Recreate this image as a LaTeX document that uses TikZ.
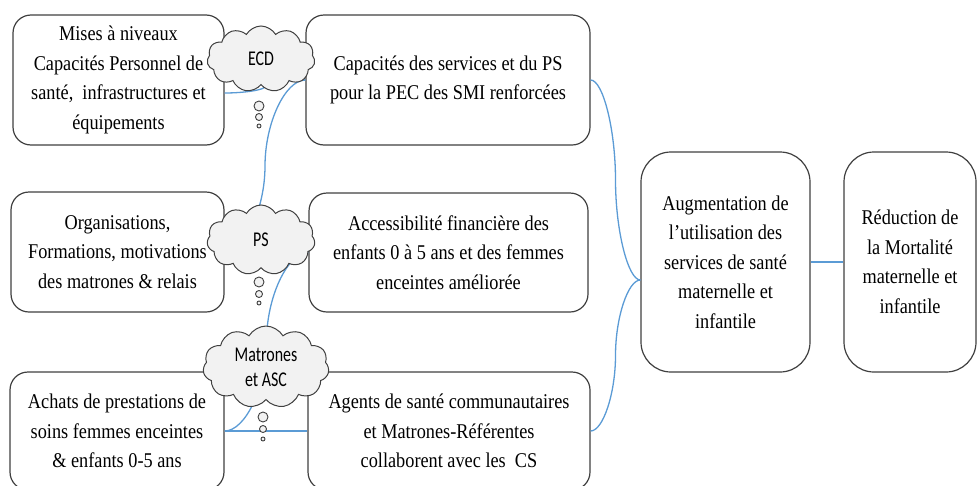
\documentclass[tikz,border=0pt]{standalone}
\usepackage{fontspec}
\setmainfont{Liberation Serif}[FakeStretch=0.87]
\newfontfamily\cloudfont{Carlito}[FakeStretch=0.76]
\usetikzlibrary{shapes.symbols,calc}
\definecolor{conn}{RGB}{91,155,213}
\definecolor{edge}{RGB}{64,64,64}
\definecolor{cloudfill}{RGB}{242,242,242}
\newcommand\wordcurve[2]{\draw[connector] let \p1=(#1), \p2=(#2) in (\p1) .. controls ({0.75*\x1+0.25*\x2},\y1) and ({0.5*\x1+0.5*\x2},{0.75*\y1+0.25*\y2}) .. ({0.5*\x1+0.5*\x2},{0.5*\y1+0.5*\y2}) .. controls ({0.5*\x1+0.5*\x2},{0.25*\y1+0.75*\y2}) and ({0.25*\x1+0.75*\x2},\y2) .. (\p2);}
\tikzset{
  box/.style={draw=edge, line width=1.2pt, rounded corners=18pt, fill=white, align=center, inner sep=0pt, font=\fontsize{21}{29.5}\selectfont},
  bigbox/.style={box, rounded corners=30pt},
  connector/.style={draw=conn, line width=1.3pt},
  thought/.style={cloud, cloud puffs=11, cloud puff arc=120, aspect=1.5, draw=edge, fill=cloudfill, line width=1pt, inner sep=0pt, align=center, font=\cloudfont\fontsize{21}{25}\selectfont},
  bubble/.style={circle, draw=edge, fill=cloudfill, line width=0.9pt, inner sep=0pt}
}
\begin{document}
\begin{tikzpicture}[x=1pt,y=-1pt]
\useasboundingbox (0,0) rectangle (977,485);
\clip (0,0) rectangle (977,485);
% boxes
\node[box, minimum width=211pt, minimum height=130pt] (L1) at (118.5,80) {Mises à niveaux\\Capacités Personnel de\\santé,~ infrastructures et\\équipements};
\node[box, minimum width=213pt, minimum height=120pt] (L2) at (117.5,252) {Organisations,\\Formations, motivations\\des matrones \& relais};
\node[box, minimum width=214pt, minimum height=118pt] (L3) at (117,431) {Achats de prestations de\\soins femmes enceintes\\\& enfants 0-5 ans};
\node[box, minimum width=284pt, minimum height=130pt] (M1) at (448,80) {Capacités des services et du PS\\pour la PEC des SMI renforcées};
\node[box, minimum width=279pt, minimum height=119pt] (M2) at (448.5,252.5) {Accessibilité financière des\\enfants 0 à 5 ans et des femmes\\enceintes améliorée};
\node[box, minimum width=282pt, minimum height=118pt] (M3) at (449,431) {Agents de santé communautaires\\et Matrones-Référentes\\collaborent avec les~ CS};
\node[bigbox, minimum width=169pt, minimum height=220pt] (B) at (725.5,262) {Augmentation de\\l’utilisation des\\services de santé\\maternelle et\\infantile};
\node[bigbox, minimum width=132pt, minimum height=220pt] (R) at (910,262) {Réduction de\\la Mortalité\\maternelle et\\infantile};
% connectors
\coordinate (l1o) at ([yshift=-13pt]L1.east);
\coordinate (bin) at ([yshift=-18pt]B.west);
\wordcurve{l1o}{M1.west}
\wordcurve{L2.east}{M1.west}
\wordcurve{L3.east}{M2.west}
\draw[connector] (L3.east) -- (M3.west);
\wordcurve{M1.east}{bin}
\wordcurve{M3.east}{bin}
\draw[connector] (B.east) -- (R.west);
% clouds
\node[thought, minimum width=108pt, minimum height=66pt] (c1) at (261,59) {ECD};
\node[thought, minimum width=108pt, minimum height=70pt] (c2) at (261,240) {PS};
\node[thought, minimum width=126pt, minimum height=82pt] (c3) at (266,367) {Matrones\\et ASC};
\node[bubble, minimum size=10pt] (b11) at (259,106) {};
\node[bubble, minimum size=7pt] (b12) at (259,117) {};
\node[bubble, minimum size=4pt] (b13) at (259,126) {};
\node[bubble, minimum size=10pt] (b21) at (259,282) {};
\node[bubble, minimum size=7pt] (b22) at (259,294) {};
\node[bubble, minimum size=4pt] (b23) at (259,303) {};
\node[bubble, minimum size=10pt] (b31) at (263,417) {};
\node[bubble, minimum size=7pt] (b32) at (263,429) {};
\node[bubble, minimum size=4pt] (b33) at (263,439) {};
\end{tikzpicture}
\end{document}
